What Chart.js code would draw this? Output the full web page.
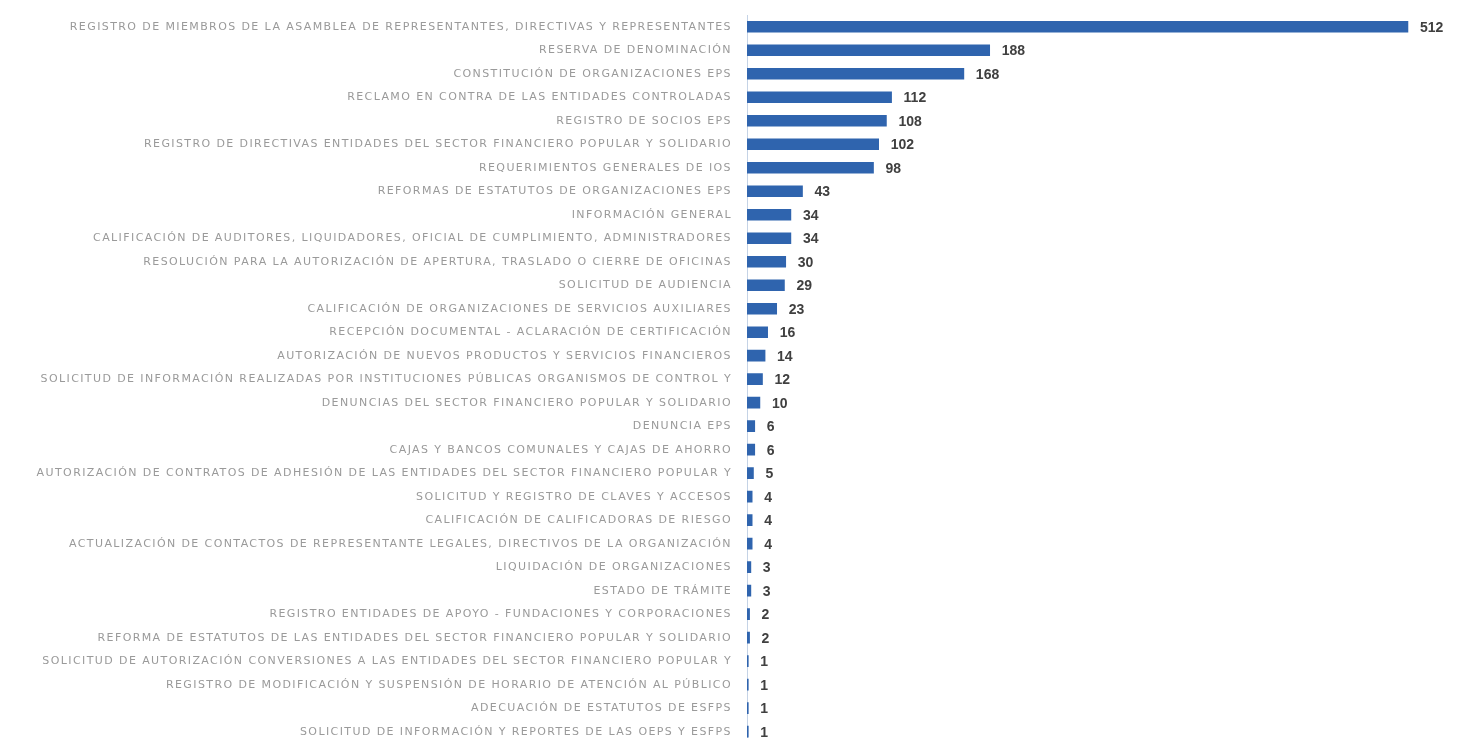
<!DOCTYPE html>
<html>
<head>
<meta charset="utf-8">
<script src="https://cdn.jsdelivr.net/npm/chart.js@4"></script>
<style>
  html, body { margin: 0; padding: 0; background: #fff; overflow: hidden; }
  canvas { display: block; }
</style>
</head>
<body>
<canvas id="tramites" width="1461" height="757"></canvas>
<script>
const categories = [
    'REGISTRO DE MIEMBROS DE LA ASAMBLEA DE REPRESENTANTES, DIRECTIVAS Y REPRESENTANTES',
    'RESERVA DE DENOMINACIÓN',
    'CONSTITUCIÓN DE ORGANIZACIONES EPS',
    'RECLAMO EN CONTRA DE LAS ENTIDADES CONTROLADAS',
    'REGISTRO DE SOCIOS EPS',
    'REGISTRO DE DIRECTIVAS ENTIDADES DEL SECTOR FINANCIERO POPULAR Y SOLIDARIO',
    'REQUERIMIENTOS GENERALES DE IOS',
    'REFORMAS DE ESTATUTOS DE ORGANIZACIONES EPS',
    'INFORMACIÓN GENERAL',
    'CALIFICACIÓN DE AUDITORES, LIQUIDADORES, OFICIAL DE CUMPLIMIENTO, ADMINISTRADORES',
    'RESOLUCIÓN PARA LA AUTORIZACIÓN DE APERTURA, TRASLADO O CIERRE DE OFICINAS',
    'SOLICITUD DE AUDIENCIA',
    'CALIFICACIÓN DE ORGANIZACIONES DE SERVICIOS AUXILIARES',
    'RECEPCIÓN DOCUMENTAL - ACLARACIÓN DE CERTIFICACIÓN',
    'AUTORIZACIÓN DE NUEVOS PRODUCTOS Y SERVICIOS FINANCIEROS',
    'SOLICITUD DE INFORMACIÓN REALIZADAS POR INSTITUCIONES PÚBLICAS ORGANISMOS DE CONTROL Y',
    'DENUNCIAS DEL SECTOR FINANCIERO POPULAR Y SOLIDARIO',
    'DENUNCIA EPS',
    'CAJAS Y BANCOS COMUNALES Y CAJAS DE AHORRO',
    'AUTORIZACIÓN DE CONTRATOS DE ADHESIÓN DE LAS ENTIDADES DEL SECTOR FINANCIERO POPULAR Y',
    'SOLICITUD Y REGISTRO DE CLAVES Y ACCESOS',
    'CALIFICACIÓN DE CALIFICADORAS DE RIESGO',
    'ACTUALIZACIÓN DE CONTACTOS DE REPRESENTANTE LEGALES, DIRECTIVOS DE LA ORGANIZACIÓN',
    'LIQUIDACIÓN DE ORGANIZACIONES',
    'ESTADO DE TRÁMITE',
    'REGISTRO ENTIDADES DE APOYO - FUNDACIONES Y CORPORACIONES',
    'REFORMA DE ESTATUTOS DE LAS ENTIDADES DEL SECTOR FINANCIERO POPULAR Y SOLIDARIO',
    'SOLICITUD DE AUTORIZACIÓN CONVERSIONES A LAS ENTIDADES DEL SECTOR FINANCIERO POPULAR Y',
    'REGISTRO DE MODIFICACIÓN Y SUSPENSIÓN DE HORARIO DE ATENCIÓN AL PÚBLICO',
    'ADECUACIÓN DE ESTATUTOS DE ESFPS',
    'SOLICITUD DE INFORMACIÓN Y REPORTES DE LAS OEPS Y ESFPS'
];

const cantidades = [512, 188, 168, 112, 108, 102, 98, 43, 34, 34, 30, 29, 23, 16, 14, 12, 10,
    6, 6, 5, 4, 4, 4, 3, 3, 2, 2, 1, 1, 1, 1];

const xMax = 550;

// wide spaced category text like the original export
const labelSpacing = {
    id: 'labelSpacing',
    beforeDraw(chart) {
        chart.ctx.letterSpacing = '1.4px';
    }
};

// draws the number just right of each bar
const valueLabels = {
    id: 'valueLabels',
    afterDatasetsDraw(chart) {
        const ctx = chart.ctx;
        const meta = chart.getDatasetMeta(0);
        ctx.save();
        ctx.letterSpacing = '0px';
        ctx.font = 'bold 14px "Liberation Sans", Arial, sans-serif';
        ctx.fillStyle = '#404040';
        ctx.textAlign = 'left';
        ctx.textBaseline = 'middle';
        meta.data.forEach(function(bar, i) {
            ctx.fillText(String(cantidades[i]), bar.x + 12, bar.y + 1);
        });
        ctx.restore();
    }
};

const ctx = document.getElementById('tramites').getContext('2d');

const chart = new Chart(ctx, {
    type: 'bar',
    data: {
        labels: categories,
        datasets: [{
            data: cantidades,
            backgroundColor: '#2f64ae',
            borderWidth: 0,
            barThickness: 11
        }]
    },
    options: {
        indexAxis: 'y',
        responsive: false,
        animation: false,
        layout: {
            padding: { top: 15, right: 4, bottom: 7, left: 0 }
        },
        plugins: {
            legend: { display: false },
            tooltip: { enabled: false }
        },
        scales: {
            x: {
                display: false,
                min: 0,
                max: xMax
            },
            y: {
                grid: { display: false },
                border: { display: true, color: '#c5d3e6', width: 1 },
                afterFit: function(scale) {
                    scale.width = 747;
                },
                ticks: {
                    autoSkip: false,
                    padding: 7,
                    color: '#9a9a9a',
                    font: { family: '"DejaVu Sans", sans-serif', size: 11 }
                }
            }
        }
    },
    plugins: [labelSpacing, valueLabels]
});
</script>
</body>
</html>
